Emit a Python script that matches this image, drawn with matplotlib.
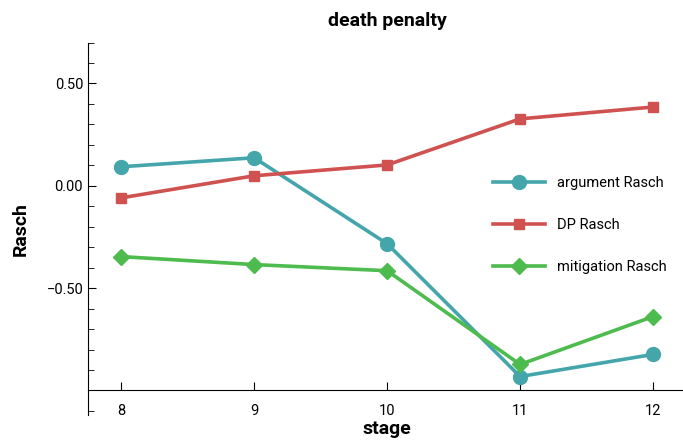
import matplotlib
matplotlib.use('Agg')
import matplotlib.pyplot as plt
from matplotlib.ticker import MultipleLocator

plt.rcParams['font.family'] = ['Roboto', 'DejaVu Sans']

stages = [8, 9, 10, 11, 12]
argument_rasch = [0.093, 0.137, -0.283, -0.932, -0.824]
dp_rasch = [-0.059, 0.049, 0.102, 0.327, 0.385]
mitigation_rasch = [-0.346, -0.385, -0.415, -0.873, -0.639]

fig = plt.figure(figsize=(6.83, 4.45), dpi=100)
ax = fig.add_axes([0.1288, 0.0674, 0.876, 0.837])

ax.plot(stages, argument_rasch, color='#44a6ab', lw=2.6, marker='o', ms=10,
        label='argument Rasch')
ax.plot(stages, dp_rasch, color='#cf5250', lw=2.6, marker='s', ms=7,
        label='DP Rasch')
ax.plot(stages, mitigation_rasch, color='#4dbb4d', lw=2.6, marker='D', ms=8,
        label='mitigation Rasch')

ax.set_xlim(7.75, 12.25)
ax.set_ylim(-1.12, 0.70)
ax.set_xticks(stages)
ax.set_yticks([-0.5, 0.0, 0.5])
ax.set_yticklabels(['\u22120.50', '0.00', '0.50'])
ax.yaxis.set_minor_locator(MultipleLocator(0.1))

ax.spines['top'].set_visible(False)
ax.spines['right'].set_visible(False)
ax.spines['bottom'].set_position(('data', -1.0))
ax.tick_params(direction='in', labelsize=10.5, length=6)
ax.tick_params(which='minor', direction='in', length=4)
ax.tick_params(axis='x', pad=10)

ax.set_title('death penalty', fontsize=14, fontweight='bold', pad=12)
ax.set_xlabel('stage', fontsize=14, fontweight='bold', labelpad=1)
ax.set_ylabel('Rasch', fontsize=14, fontweight='bold', labelpad=12)

ax.legend(loc='center left', bbox_to_anchor=(0.655, 0.51), frameon=False,
          fontsize=10.5, labelspacing=1.9, handlelength=3.6, handletextpad=0.8)

fig.savefig('out.png', dpi=100)
